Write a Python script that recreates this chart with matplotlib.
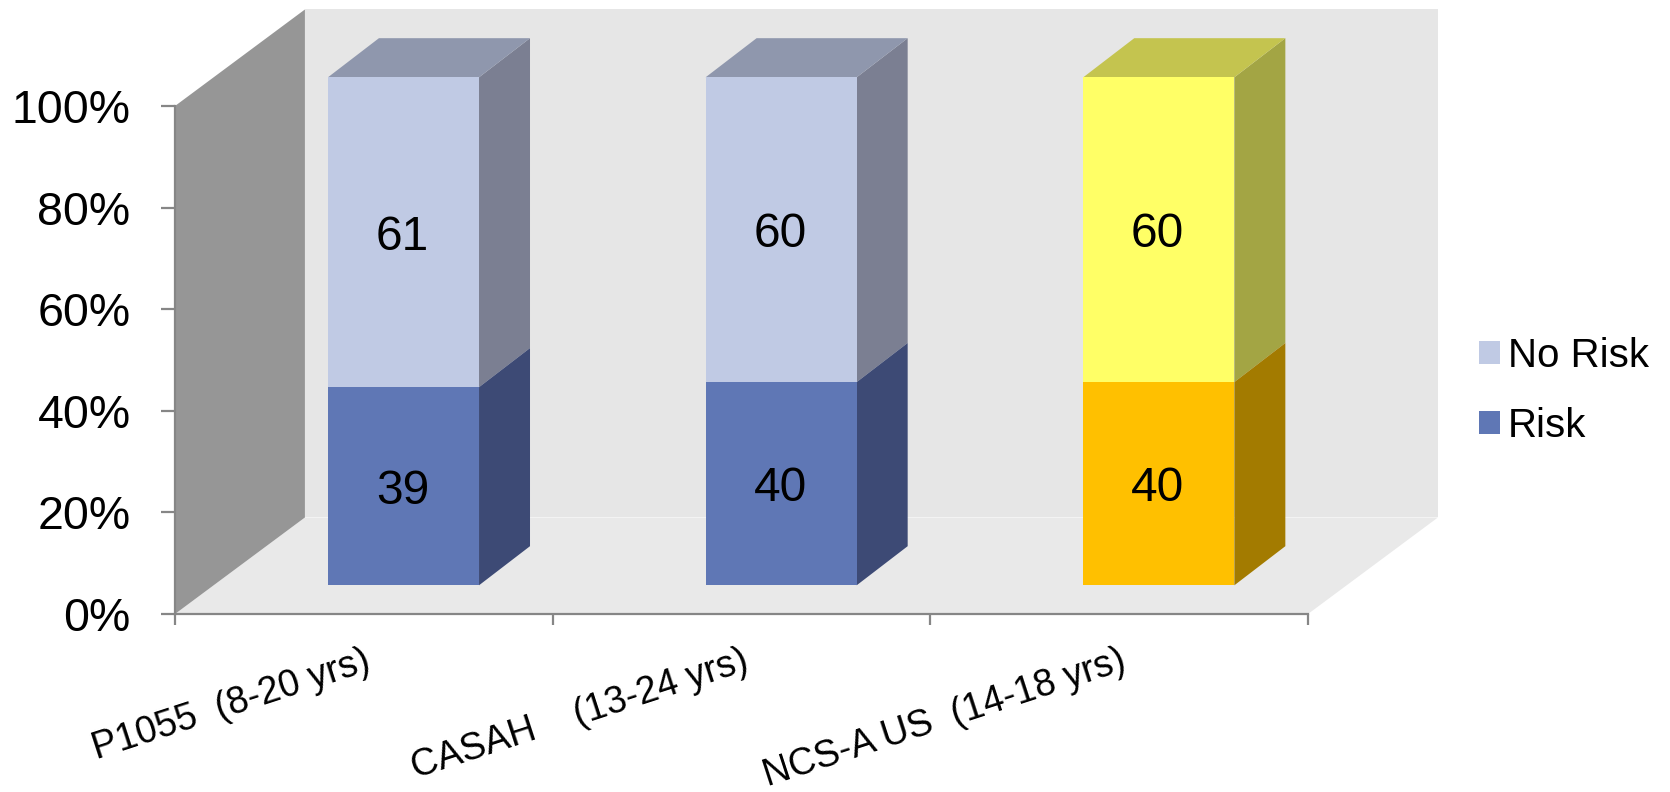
import numpy as np
import matplotlib
matplotlib.use('Agg')
import matplotlib.pyplot as plt
from matplotlib.patches import Polygon, Patch

plt.rcParams['font.family'] = ['Liberation Sans', 'DejaVu Sans']

# values
categories = ['P1055  (8-20 yrs)', 'CASAH    (13-24 yrs)', 'NCS-A US  (14-18 yrs)']
risk = [39, 40, 40]
no_risk = [61, 60, 60]
y_ticks = [0, 20, 40, 60, 80, 100]

# colours per category: front, side, top
risk_front = ['#5F77B5', '#5F77B5', '#FFC000']
risk_side = ['#3D4A75', '#3D4A75', '#A37B00']
safe_front = ['#C0CAE4', '#C0CAE4', '#FFFF66']
safe_side = ['#7B7F92', '#7B7F92', '#A3A544']
safe_top = ['#8F97AD', '#8F97AD', '#C4C44F']

# oblique depth of the box and of the bars, in data units
box_dx, box_dy = 0.344, 19.0
bar_dx, bar_dy = 0.135, 7.7
base_dy = 5.65
bar_w = 0.4


def side_face(ax, x, y0, y1, color, z):
    pts = [(x, y0), (x + bar_dx, y0 + bar_dy), (x + bar_dx, y1 + bar_dy), (x, y1)]
    ax.add_patch(Polygon(pts, closed=True, fc=color, ec='none', clip_on=False, zorder=z))


def top_face(ax, x0, x1, y, color, z):
    pts = [(x0, y), (x1, y), (x1 + bar_dx, y + bar_dy), (x0 + bar_dx, y + bar_dy)]
    ax.add_patch(Polygon(pts, closed=True, fc=color, ec='none', clip_on=False, zorder=z))


fig = plt.figure(figsize=(16.7, 7.92), dpi=100)
ax = fig.add_axes([175 / 1670, 178 / 792, 1133 / 1670, 508 / 792])
ax.set_xlim(0, 3)
ax.set_ylim(0, 100)
ax.patch.set_visible(False)

# back wall, floor, left wall
ax.add_patch(Polygon([(box_dx, box_dy), (3 + box_dx, box_dy), (3 + box_dx, 100 + box_dy), (box_dx, 100 + box_dy)],
                     closed=True, fc='#E6E6E6', ec='none', clip_on=False, zorder=1))
ax.add_patch(Polygon([(0, 0), (3, 0), (3 + box_dx, box_dy), (box_dx, box_dy)],
                     closed=True, fc='#E9E9E9', ec='none', clip_on=False, zorder=1.1))
ax.add_patch(Polygon([(0, 0), (box_dx, box_dy), (box_dx, 100 + box_dy), (0, 100)],
                     closed=True, fc='#969696', ec='none', clip_on=False, zorder=1.2))

# stacked bars, lifted off the front edge of the floor
xpos = np.arange(len(categories)) + 0.605
risk = np.array(risk)
no_risk = np.array(no_risk)
ax.bar(xpos, risk, bar_w, bottom=base_dy, color=risk_front, zorder=3, clip_on=False)
ax.bar(xpos, no_risk, bar_w, bottom=base_dy + risk, color=safe_front, zorder=3, clip_on=False)

for i, x in enumerate(xpos):
    xr = x + bar_w / 2
    side_face(ax, xr, base_dy, base_dy + risk[i], risk_side[i], 2.5)
    side_face(ax, xr, base_dy + risk[i], base_dy + risk[i] + no_risk[i], safe_side[i], 2.4)
    top_face(ax, x - bar_w / 2, xr, base_dy + risk[i] + no_risk[i], safe_top[i], 2.5)
    ax.text(x - 0.003, base_dy + risk[i] / 2, str(risk[i]), ha='center', va='center_baseline', fontsize=34.5,
            color='black', zorder=4)
    ax.text(x - 0.003, base_dy + risk[i] + no_risk[i] / 2, str(no_risk[i]), ha='center', va='center_baseline',
            fontsize=34.5, color='black', zorder=4)

# axes
for s in ['top', 'right']:
    ax.spines[s].set_visible(False)
for s in ['left', 'bottom']:
    ax.spines[s].set_color('#868686')
    ax.spines[s].set_linewidth(1.6)
    ax.spines[s].set_zorder(5)
ax.set_yticks(y_ticks)
ax.set_yticklabels([str(t) + '%' for t in y_ticks], fontsize=33.5, va='center_baseline')
ax.tick_params(axis='y', length=10, width=1.6, color='#868686', pad=22)
ax.set_xticks(np.arange(len(categories) + 1))
ax.set_xticklabels([])
ax.tick_params(axis='x', which='major', length=8, width=1.6, color='#868686')
ax.set_xticks(np.arange(len(categories)) + 0.5, minor=True)
ax.set_xticklabels(categories, minor=True, fontsize=27, rotation=18, ha='right', rotation_mode='anchor')
ax.tick_params(axis='x', which='minor', length=0, pad=21)

# legend
handles = [Patch(fc='#C0CAE4', ec='none', label='No Risk'), Patch(fc='#5F77B5', ec='none', label='Risk')]
fig.legend(handles=handles, loc='center left', bbox_to_anchor=(0.8856, 0.5065), frameon=False, fontsize=29,
           borderpad=0, borderaxespad=0, handlelength=0.52, handleheight=0.52, handletextpad=0.2, labelspacing=0.8)

fig.savefig('out.png', dpi=100)
